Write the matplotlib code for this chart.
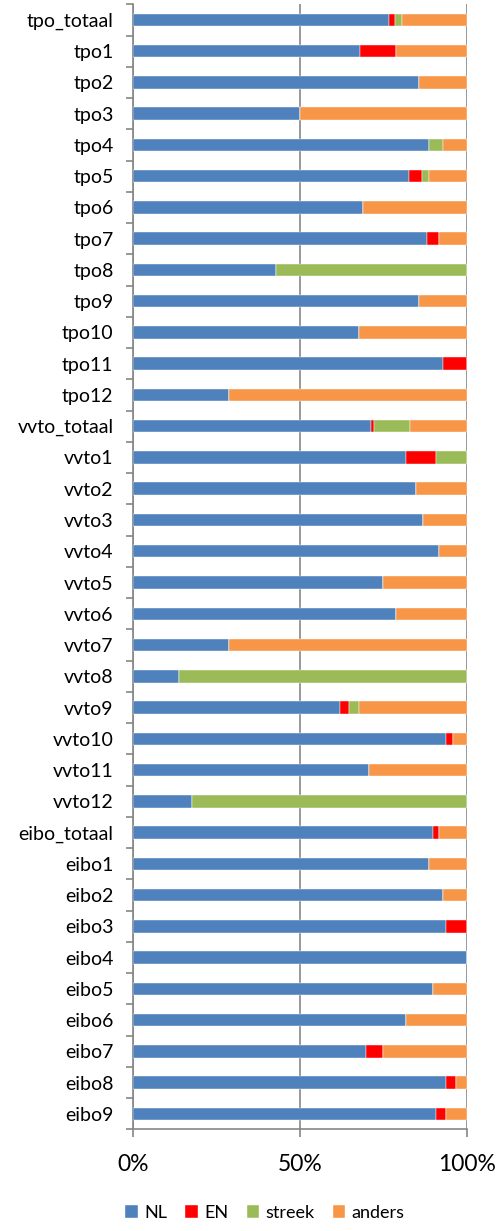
import numpy as np
import matplotlib
matplotlib.use('Agg')
from matplotlib import pyplot as plt

plt.rcParams['font.family'] = ['Lato', 'DejaVu Sans']

categories = ['tpo_totaal', 'tpo1', 'tpo2', 'tpo3', 'tpo4', 'tpo5', 'tpo6', 'tpo7',
              'tpo8', 'tpo9', 'tpo10', 'tpo11', 'tpo12',
              'vvto_totaal', 'vvto1', 'vvto2', 'vvto3', 'vvto4', 'vvto5', 'vvto6',
              'vvto7', 'vvto8', 'vvto9', 'vvto10', 'vvto11', 'vvto12',
              'eibo_totaal', 'eibo1', 'eibo2', 'eibo3', 'eibo4', 'eibo5', 'eibo6',
              'eibo7', 'eibo8', 'eibo9']

nl = [76.7, 67.9, 85.8, 50.0, 88.8, 82.8, 68.9, 88.0, 42.9, 85.8, 67.7, 93.0, 28.8,
      71.2, 81.9, 84.9, 86.9, 91.8, 74.9, 78.9, 28.8, 13.8, 61.9, 93.9, 70.7, 17.8,
      89.9, 88.8, 92.9, 93.9, 100.0, 89.9, 81.9, 69.9, 93.9, 90.9]
en = [1.9, 10.9, 0, 0, 0, 3.9, 0, 3.8, 0, 0, 0, 7.0, 0,
      1.0, 9.0, 0, 0, 0, 0, 0, 0, 0, 2.8, 2.0, 0, 0,
      1.9, 0, 0, 6.1, 0, 0, 0, 5.0, 3.0, 3.0]
streek = [2.1, 0, 0, 0, 4.2, 2.1, 0, 0, 57.1, 0, 0, 0, 0,
          10.9, 9.1, 0, 0, 0, 0, 0, 0, 86.2, 3.1, 0, 0, 82.2,
          0, 0, 0, 0, 0, 0, 0, 0, 0, 0]

series = {'NL': np.array(nl), 'EN': np.array(en), 'streek': np.array(streek)}
series['anders'] = np.clip(100 - series['NL'] - series['EN'] - series['streek'], 0, None)
colors = {'NL': '#4F81BD', 'EN': '#FF0000', 'streek': '#9BBB59', 'anders': '#F79646'}

fig = plt.figure(figsize=(5.02, 12.31), dpi=100)
ax = fig.add_axes([0.265, 0.0825, 0.6645, 0.9140])

y = np.arange(len(categories))
left = np.zeros(len(categories))
for name, vals in series.items():
    ax.barh(y, vals, left=left, height=0.4, color=colors[name], label=name,
            edgecolor='white', linewidth=0.3, zorder=3)
    left = left + vals

grey = '#868686'
ax.set_xlim(0, 100)
ax.set_ylim(len(categories) - 0.5, -0.5)

# gridlines at 50% and 100%
ax.set_xticks([0, 50, 100])
ax.set_xticklabels(['0%', '50%', '100%'], fontsize=16.5)
ax.xaxis.grid(True, color=grey, linewidth=1.2, zorder=0)
ax.tick_params(axis='x', direction='out', length=6, width=1.2, color=grey, pad=12)

# y ticks between categories, labels at the centres
ax.set_yticks(np.arange(-0.5, len(categories), 1.0))
ax.set_yticklabels([])
ax.set_yticks(y, minor=True)
ax.set_yticklabels(categories, minor=True, fontsize=14)
ax.tick_params(axis='y', which='major', direction='out', length=5, width=1.2, color=grey)
ax.tick_params(axis='y', which='minor', length=0, pad=14)

for side in ['top', 'right']:
    ax.spines[side].set_visible(False)
for side in ['left', 'bottom']:
    ax.spines[side].set_color(grey)
    ax.spines[side].set_linewidth(1.2)

fig.legend(loc='lower center', bbox_to_anchor=(0.528, 0.0), ncol=4, frameon=False,
           fontsize=13, handlelength=0.7, handleheight=0.7, handletextpad=0.35,
           columnspacing=1.0, borderaxespad=0.15)

plt.savefig('out.png', dpi=100)
